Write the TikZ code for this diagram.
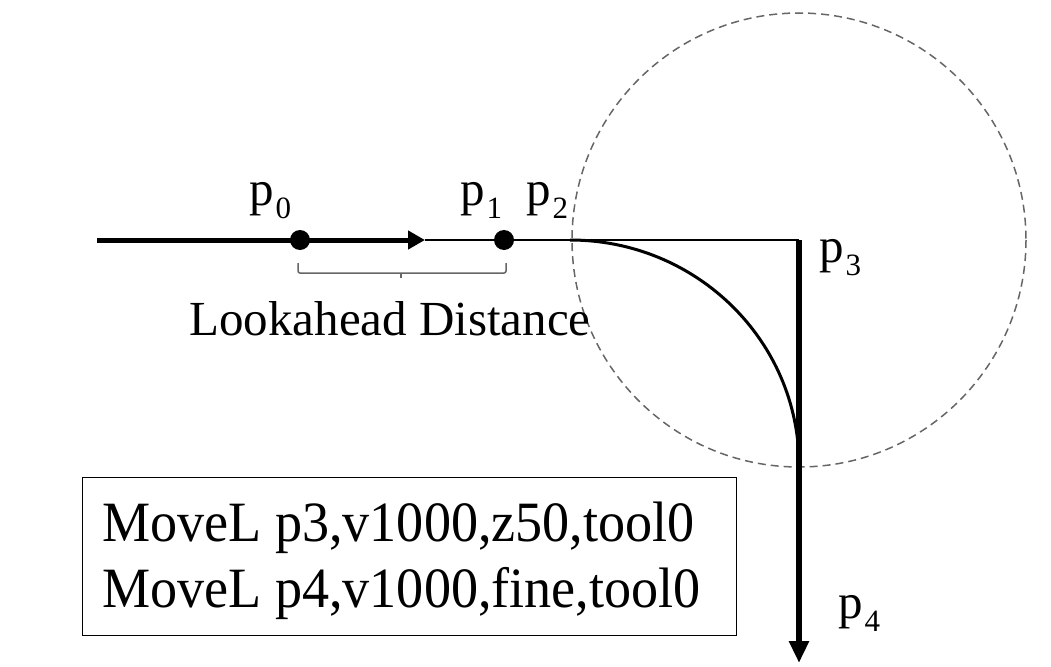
\documentclass[tikz,border=0pt]{standalone}
\usepackage{fontspec}
\setmainfont{Liberation Serif}
\newfontfamily\codefont[FakeStretch=0.95]{Liberation Serif}
\usetikzlibrary{arrows.meta}
\newcommand\ptlabel[1]{p\kern2pt\raisebox{-13pt}{\fontsize{31}{31}\selectfont #1}}
\begin{document}
\begin{tikzpicture}[x=1pt,y=-1pt,
  thickline/.style={line width=5pt},
  thinline/.style={line width=2.6pt},
  dot/.style={circle,fill=black,inner sep=0pt,minimum size=20pt},
  lbl/.style={font=\fontsize{49}{54}\selectfont,inner sep=0pt,anchor=base west},
  lbig/.style={font=\fontsize{49}{54}\selectfont,inner sep=0pt,anchor=base},
  codetxt/.style={font=\codefont\fontsize{57}{60}\selectfont,inner sep=0pt,anchor=base west},
  codebox/.style={draw,line width=1.4pt,inner sep=0pt,minimum width=654pt,minimum height=158pt,anchor=north west},
  zone/.style={draw=black!60,line width=1.5pt,dash pattern=on 8pt off 5pt},
  brace/.style={draw=black!60,line width=1.5pt,rounded corners=2pt}]
\useasboundingbox (0,0) rectangle (1051,666);
% points
\coordinate (start) at (97,240);
\node[dot] (p0) at (300,240) {};
\node[dot] (p1) at (504,240) {};
\coordinate (p2) at (570,240);
\coordinate (p3) at (799,240);
\coordinate (p4) at (799,663);
% zone circle
\draw[zone] (p3) circle[radius=227];
% path
\draw[thickline] (start) -- (p0.center);
\draw[thickline,-{Triangle[length=17pt,width=18pt]}] (p0.center) -- (425,240);
\draw[thinline] (425,240) -- (p3);
\draw[line width=3pt] (p2) arc[start angle=-90,end angle=0,x radius=229,y radius=225];
\draw[line width=5.5pt,-{Triangle[length=22pt,width=19pt]}] (p3) -- (p4);
% brace
\draw[brace] (298,263) -- (298,273) -- (506,273) -- (506,263);
\draw[draw=black!60,line width=1.5pt] (401,273) -- (401,278);
% labels
\node[lbl] (l0) at (249,205) {\ptlabel{0}};
\node[lbl] (l1) at (460,205) {\ptlabel{1}};
\node[lbl] (l2) at (526,205) {\ptlabel{2}};
\node[lbl] (l3) at (819,262) {\ptlabel{3}};
\node[lbl] (l4) at (838,618) {\ptlabel{4}};
\node[lbig] (ld) at (390,335) {Lookahead Distance};
% code box
\node[codebox] (box) at (82,477) {};
\node[codetxt] (c1) at (102,541) {MoveL p3,v1000,z50,tool0};
\node[codetxt] (c2) at (102,607) {MoveL p4,v1000,fine,tool0};
\end{tikzpicture}
\end{document}
